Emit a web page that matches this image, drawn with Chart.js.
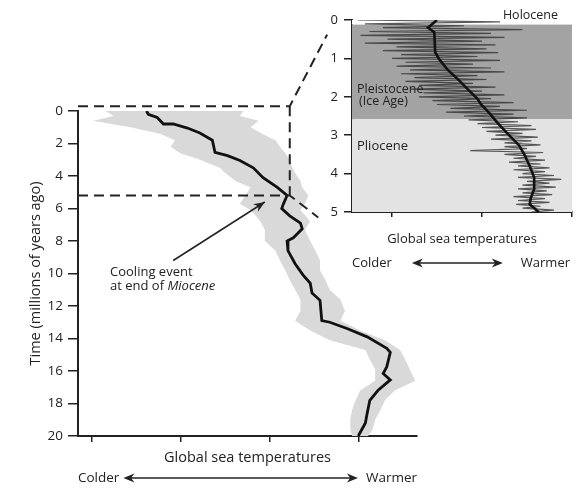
<!DOCTYPE html>
<html>
<head>
  <title>Global sea temperatures</title>
  <script src="https://cdn.jsdelivr.net/npm/chart.js"></script>
  <style>
    body { margin: 0; background: #fff; }
    #wrap { position: relative; width: 576px; height: 488px; }
    #main { position: absolute; left: 0; top: 0; }
    #inset { position: absolute; left: 300px; top: 0; }
  </style>
</head>
<body>
<div id="wrap">
  <canvas id="main" width="576" height="488"></canvas>
  <canvas id="inset" width="276" height="280"></canvas>
</div>
<script>
// main panel: last 20 million years (temperature in arbitrary units, 1..4 = tick marks)
const mainTempTicks = [1, 2, 3, 4];
const bandDepth = [0, 0.3, 0.6, 1.0, 1.4, 1.8, 2.2, 2.6, 3.0, 3.5, 3.8, 4.3, 4.7, 5.2, 5.7, 6.1, 6.4, 6.8, 7.3, 8.0,
  8.6, 9.2, 9.8, 10.4, 11.0, 11.6, 12.3, 12.9, 13.5, 14.1, 14.7, 15.3, 15.9, 16.6, 17.2, 17.8, 18.4, 19.0, 19.6, 20];
const bandLeft = [1.15, 1.24, 1.01, 1.43, 1.76, 1.93, 1.88, 1.99, 2.21, 2.44, 2.49, 2.61, 2.78, 2.72, 2.66, 2.78, 2.83, 2.89, 2.94, 2.94,
  3.06, 3.11, 3.17, 3.22, 3.28, 3.34, 3.34, 3.28, 3.45, 3.67, 4.07, 4.12, 4.18, 4.18, 4.01, 3.96, 3.92, 3.90, 3.90, 3.92];
const bandRight = [2.70, 2.66, 2.87, 2.78, 2.91, 3.06, 3.11, 3.17, 3.22, 3.25, 3.28, 3.34, 3.36, 3.43, 3.39, 3.34, 3.39, 3.45, 3.39, 3.45,
  3.51, 3.56, 3.56, 3.62, 3.67, 3.79, 3.84, 3.79, 4.01, 4.29, 4.46, 4.52, 4.57, 4.63, 4.40, 4.29, 4.24, 4.18, 4.15, 4.10];
const lineDepth = [0, 0.2, 0.4, 0.8, 0.8, 1.05, 1.35, 1.8, 2.55, 2.75, 3.05, 3.5, 4.1, 4.7, 5.2, 5.7, 6.0, 6.45, 6.9, 7.25,
  7.8, 8.0, 8.6, 9.4, 10.1, 10.6, 11.2, 11.65, 12.9, 13.0, 13.4, 13.9, 14.6, 14.85, 15.75, 16.15, 16.55, 17.2, 17.8, 18.6, 19.2, 19.8, 20];
const lineTemp = [1.61, 1.63, 1.73, 1.80, 1.91, 2.07, 2.21, 2.35, 2.38, 2.52, 2.66, 2.81, 2.92, 3.08, 3.19, 3.15, 3.13, 3.22, 3.34, 3.36,
  3.26, 3.19, 3.20, 3.28, 3.37, 3.45, 3.47, 3.56, 3.58, 3.67, 3.87, 4.09, 4.31, 4.35, 4.31, 4.27, 4.35, 4.21, 4.12, 4.09, 4.07, 4.01, 3.99];

// zoom box + connectors (main panel units: [temp, Ma])
const zoomTop = -0.3, zoomBottom = 5.2, zoomRight = 3.22;
const connTop = [3.64, -4.7], connBottom = [3.54, 6.55];
const coolingTail = [1.91, 9.2], coolingHead = [2.94, 5.6];

// inset: last 5 million years
const insetTempTicks = [1, 2, 3];
const epochNames = ['Holocene', 'Pleistocene', 'Pliocene'];
const epochStart = [0, 0.12, 2.58];
const epochEnd = [0.12, 2.58, 5];
const noiseDepth = [0, 0.05, 0.1, 0.15, 0.2, 0.25, 0.3, 0.35, 0.4, 0.45, 0.5, 0.55, 0.6, 0.65, 0.7, 0.75, 0.8, 0.85, 0.9, 0.95,
  1.0, 1.05, 1.1, 1.15, 1.2, 1.25, 1.3, 1.35, 1.4, 1.45, 1.5, 1.55, 1.6, 1.65, 1.7, 1.75, 1.8, 1.85, 1.9, 1.95,
  2.0, 2.05, 2.1, 2.15, 2.2, 2.25, 2.3, 2.35, 2.4, 2.45, 2.5, 2.55, 2.6, 2.65, 2.7, 2.75, 2.8, 2.85, 2.9, 2.95,
  3.0, 3.05, 3.1, 3.15, 3.2, 3.25, 3.3, 3.35, 3.4, 3.45, 3.5, 3.55, 3.6, 3.65, 3.7, 3.75, 3.8, 3.85, 3.9, 3.95,
  4.0, 4.05, 4.1, 4.15, 4.2, 4.25, 4.3, 4.35, 4.4, 4.45, 4.5, 4.55, 4.6, 4.65, 4.7, 4.75, 4.8, 4.85, 4.9, 4.95, 5.0];
const noiseTemp = [0.62, 2.20, 0.70, 1.80, 0.90, 2.45, 0.75, 2.10, 0.65, 2.25, 0.95, 2.00, 0.70, 2.15, 1.05, 2.05, 0.90, 2.18, 1.10, 1.95,
  1.00, 2.20, 1.15, 1.90, 1.05, 2.10, 1.20, 2.25, 1.10, 1.95, 1.25, 2.05, 1.15, 1.90, 1.30, 2.15, 1.20, 2.00, 1.35, 2.25,
  1.30, 2.10, 1.45, 2.35, 1.50, 2.20, 1.65, 2.50, 1.60, 2.35, 1.80, 2.50, 1.85, 2.40, 1.95, 2.55, 2.00, 2.60, 2.05, 2.45,
  2.15, 2.62, 2.10, 2.55, 2.25, 2.65, 2.25, 2.50, 1.87, 2.68, 2.25, 2.60, 2.35, 2.70, 2.30, 2.65, 2.40, 2.75, 2.35, 2.70,
  2.45, 2.80, 2.40, 2.88, 2.50, 2.75, 2.45, 2.82, 2.40, 2.72, 2.45, 2.78, 2.35, 2.70, 2.40, 2.75, 2.38, 2.65, 2.45, 2.80, 2.55];
const insetDepth = [0, 0.2, 0.32, 0.84, 1.04, 1.3, 1.56, 1.8, 2.05, 2.2, 2.42, 2.7, 3.0, 3.26, 3.5, 3.8, 4.1, 4.4, 4.65, 4.8, 5.0];
const insetTemp = [1.50, 1.40, 1.47, 1.48, 1.53, 1.62, 1.74, 1.84, 1.95, 1.99, 2.08, 2.18, 2.30, 2.41, 2.47, 2.53, 2.58, 2.58, 2.54, 2.53, 2.63];

Chart.defaults.font.family = "'Open Sans', sans-serif";
Chart.defaults.color = '#222';

const ink = '#222';
const epochColors = ['#ffffff', '#a3a3a3', '#e3e3e3'];

function arrowHead(ctx, x0, y0, x1, y1, len, half) {
  const a = Math.atan2(y1 - y0, x1 - x0);
  ctx.beginPath();
  ctx.moveTo(x1, y1);
  ctx.lineTo(x1 - len * Math.cos(a) + half * Math.sin(a), y1 - len * Math.sin(a) - half * Math.cos(a));
  ctx.lineTo(x1 - len * 0.7 * Math.cos(a), y1 - len * 0.7 * Math.sin(a));
  ctx.lineTo(x1 - len * Math.cos(a) - half * Math.sin(a), y1 - len * Math.sin(a) + half * Math.cos(a));
  ctx.closePath();
  ctx.fill();
}

function colderWarmer(ctx, left, right, y, size, gapL, gapR) {
  ctx.font = size + "px 'Open Sans', sans-serif";
  ctx.textBaseline = 'middle';
  ctx.fillStyle = ink;
  ctx.textAlign = 'left';
  ctx.fillText('Colder', left, y);
  ctx.textAlign = 'right';
  ctx.fillText('Warmer', right, y);
  const x0 = left + ctx.measureText('Colder').width + gapL;
  const x1 = right - ctx.measureText('Warmer').width - gapR;
  ctx.strokeStyle = ink;
  ctx.lineWidth = 1.5;
  ctx.beginPath();
  ctx.moveTo(x0 + 6, y);
  ctx.lineTo(x1 - 6, y);
  ctx.stroke();
  arrowHead(ctx, x1, y, x0, y, 11, 4.5);
  arrowHead(ctx, x0, y, x1, y, 11, 4.5);
}

const mainNotes = {
  id: 'mainNotes',
  afterDraw(chart) {
    const {ctx, chartArea, scales: {x, y}} = chart;
    const px = v => x.getPixelForValue(v);
    const py = v => y.getPixelForValue(v);
    ctx.save();
    ctx.strokeStyle = ink;
    ctx.lineWidth = 2;
    ctx.setLineDash([10, 6]);
    ctx.beginPath();
    ctx.moveTo(chartArea.left, py(zoomTop));
    ctx.lineTo(px(zoomRight), py(zoomTop));
    ctx.lineTo(px(connTop[0]), py(connTop[1]));
    ctx.moveTo(px(zoomRight), py(zoomTop));
    ctx.lineTo(px(zoomRight), py(zoomBottom));
    ctx.moveTo(chartArea.left, py(zoomBottom));
    ctx.lineTo(px(zoomRight), py(zoomBottom));
    ctx.lineTo(px(connBottom[0]), py(connBottom[1]));
    ctx.stroke();
    ctx.setLineDash([]);

    // cooling event arrow
    const tx = px(coolingTail[0]), ty = py(coolingTail[1]);
    const hx = px(coolingHead[0]), hy = py(coolingHead[1]);
    ctx.lineWidth = 1.5;
    ctx.beginPath();
    ctx.moveTo(tx, ty);
    ctx.lineTo(hx, hy);
    ctx.stroke();
    ctx.fillStyle = ink;
    arrowHead(ctx, tx, ty, hx, hy, 11, 4.5);

    ctx.font = "13px 'Open Sans', sans-serif";
    ctx.textAlign = 'left';
    ctx.textBaseline = 'middle';
    const lx = px(1.2);
    ctx.fillText('Cooling event', lx, py(9.9));
    ctx.fillText('at end of ', lx, py(10.8));
    const w = ctx.measureText('at end of ').width;
    ctx.font = "italic 13px 'Open Sans', sans-serif";
    ctx.fillText('Miocene', lx + w, py(10.8));

    colderWarmer(ctx, chartArea.left, chartArea.right, chart.height - 10, 13.5, 4, 8);
    ctx.restore();
  }
};

const insetNotes = {
  id: 'insetNotes',
  beforeDatasetsDraw(chart) {
    const {ctx, chartArea: a, scales: {y}} = chart;
    ctx.save();
    epochNames.forEach((name, i) => {
      const y0 = y.getPixelForValue(epochStart[i]);
      const y1 = y.getPixelForValue(epochEnd[i]);
      ctx.fillStyle = epochColors[i];
      ctx.fillRect(a.left, y0, a.right - a.left, y1 - y0);
    });
    ctx.restore();
  },
  afterDraw(chart) {
    const {ctx, chartArea: a, scales: {y}} = chart;
    ctx.save();
    ctx.fillStyle = ink;
    ctx.textBaseline = 'middle';
    ctx.textAlign = 'right';
    ctx.font = "12.5px 'Open Sans', sans-serif";
    ctx.fillText(epochNames[0], a.right - 14, a.top - 5);
    ctx.textAlign = 'left';
    ctx.font = "12.5px 'Open Sans', sans-serif";
    ctx.fillText(epochNames[1], a.left + 5, y.getPixelForValue(1.8));
    ctx.fillText('(Ice Age)', a.left + 7, y.getPixelForValue(2.13));
    ctx.font = "13px 'Open Sans', sans-serif";
    ctx.fillText(epochNames[2], a.left + 5, y.getPixelForValue(3.28));
    colderWarmer(ctx, a.left, a.right - 2, chart.height - 17, 13, 20, 18);
    ctx.restore();
  }
};

new Chart(document.getElementById('main'), {
  type: 'line',
  data: {
    datasets: [
      {
        data: lineDepth.map((d, i) => ({x: lineTemp[i], y: d})),
        borderColor: '#111',
        borderWidth: 2.8,
        pointRadius: 0,
        tension: 0,
        fill: false
      },
      {
        data: bandLeft.map((v, i) => ({x: v, y: bandDepth[i]}))
          .concat(bandRight.map((v, i) => ({x: v, y: bandDepth[i]})).reverse()),
        borderWidth: 0,
        borderColor: 'rgba(0,0,0,0)',
        backgroundColor: '#d9d9d9',
        pointRadius: 0,
        tension: 0,
        fill: 'shape'
      }
    ]
  },
  options: {
    responsive: false,
    animation: false,
    layout: { padding: { left: 0, top: 111, right: 159, bottom: 0 } },
    plugins: { legend: { display: false }, tooltip: { enabled: false } },
    scales: {
      x: {
        type: 'linear', min: 0.84, max: 4.65,
        afterBuildTicks: a => { a.ticks = mainTempTicks.map(v => ({value: v})); },
        afterFit: a => { a.height = 52; },
        ticks: { display: false },
        grid: { drawOnChartArea: false, tickLength: 6, color: ink, lineWidth: 1.5 },
        border: { color: ink, width: 2 },
        title: { display: true, text: 'Global sea temperatures', font: { size: 14.5 }, color: ink, padding: { top: 0, bottom: 21 } }
      },
      y: {
        type: 'linear', reverse: true, min: 0, max: 20,
        afterFit: a => { a.width = 78; },
        ticks: { stepSize: 2, font: { size: 13.5 }, color: ink, padding: 5 },
        grid: { drawOnChartArea: false, tickLength: 10, color: ink, lineWidth: 1.5 },
        border: { color: ink, width: 2 },
        title: { display: true, text: 'Time (millions of years ago)', font: { size: 14.5 }, color: ink, padding: { top: 27, bottom: 0 } }
      }
    }
  },
  plugins: [mainNotes]
});

new Chart(document.getElementById('inset'), {
  type: 'line',
  data: {
    datasets: [
      {
        data: insetDepth.map((d, i) => ({x: insetTemp[i], y: d})),
        borderColor: '#111',
        borderWidth: 2.6,
        pointRadius: 0,
        tension: 0,
        fill: false
      },
      {
        data: noiseDepth.map((d, i) => ({x: noiseTemp[i], y: d})),
        borderColor: 'rgba(50,50,50,0.8)',
        borderWidth: 1.2,
        pointRadius: 0,
        tension: 0,
        fill: false
      }
    ]
  },
  options: {
    responsive: false,
    animation: false,
    layout: { padding: { left: 0, top: 20, right: 4, bottom: 0 } },
    plugins: { legend: { display: false }, tooltip: { enabled: false } },
    scales: {
      x: {
        type: 'linear', min: 0.556, max: 3,
        afterBuildTicks: a => { a.ticks = insetTempTicks.map(v => ({value: v})); },
        afterFit: a => { a.height = 68; },
        ticks: { display: false },
        grid: { drawOnChartArea: false, tickLength: 5, color: ink, lineWidth: 1.5 },
        border: { color: ink, width: 2 },
        title: { display: true, text: 'Global sea temperatures', font: { size: 13 }, color: ink, padding: { top: 0, bottom: 33 } }
      },
      y: {
        type: 'linear', reverse: true, min: 0, max: 5,
        afterFit: a => { a.width = 52; },
        ticks: { stepSize: 1, font: { size: 13 }, color: ink, padding: 6 },
        grid: { drawOnChartArea: false, tickLength: 8, color: ink, lineWidth: 1.5 },
        border: { color: ink, width: 2 }
      }
    }
  },
  plugins: [insetNotes]
});
</script>
</body>
</html>
